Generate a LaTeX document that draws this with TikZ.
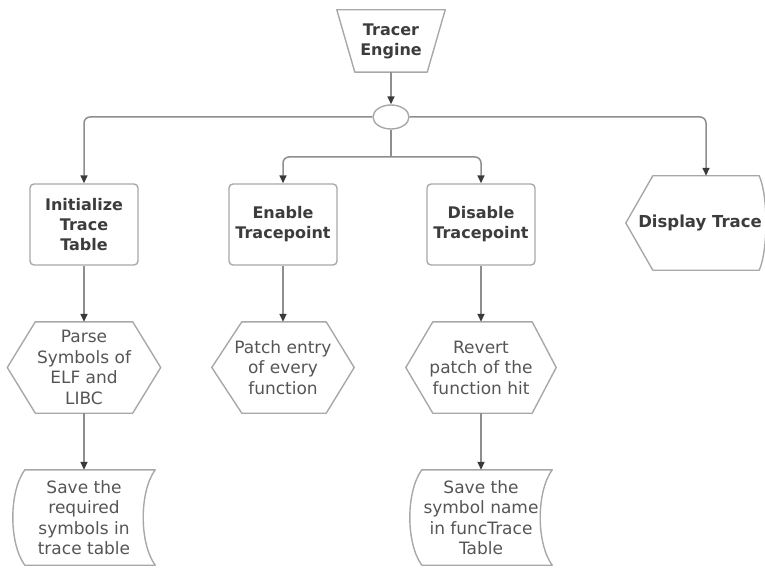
\documentclass[tikz,border=0pt]{standalone}
\usepackage{fontspec}
\setmainfont{DejaVu Sans}
\usetikzlibrary{arrows.meta,shapes.geometric}

\definecolor{edgegray}{HTML}{A8A8A8}
\definecolor{linkgray}{HTML}{8E8E8E}
\definecolor{tipgray}{HTML}{3A3A3A}
\definecolor{labelgray}{HTML}{3C3C3C}
\definecolor{textgray}{HTML}{555555}

\tikzset{
  outline/.style={draw=edgegray, line width=1.4pt, line join=round},
  boxlabel/.style={font=\fontsize{16}{20}\selectfont\bfseries, text=labelgray,
    align=center, inner sep=0pt},
  plainlabel/.style={font=\fontsize{17}{20.5}\selectfont, text=textgray,
    align=center, inner sep=0pt},
  procbox/.style={boxlabel, outline, rounded corners=4pt,
    minimum width=108pt, minimum height=81pt},
  conn/.style={draw=linkgray, line width=1.5pt},
  flow/.style={conn, -{Triangle[width=7pt,length=8pt,color=tipgray]}},
  softturn/.style={rounded corners=6pt},
}

\begin{document}
\begin{tikzpicture}[x=1pt, y=-1pt]
  \useasboundingbox (0,0) rectangle (765,569);

  % --- top: engine and its fan-out hub
  \node[boxlabel, minimum width=108pt, minimum height=62pt] (tracer) at (391,41) {Tracer\\Engine};
  \draw[outline] (tracer.north west) -- (tracer.north east)
    -- ([xshift=-18pt]tracer.south east) -- ([xshift=18pt]tracer.south west) -- cycle;

  \node[ellipse, outline, minimum width=36pt, minimum height=24pt, inner sep=0pt] (hub) at (391,117) {};

  % --- process boxes
  \node[procbox] (init) at (84,224.5) {Initialize\\Trace\\Table};
  \node[procbox] (enable) at (283,224.5) {Enable\\Tracepoint};
  \node[procbox] (disable) at (481,224.5) {Disable\\Tracepoint};

  % display shape: pointed left side, rounded right side
  \node[boxlabel, font=\fontsize{16.5}{20}\selectfont\bfseries, minimum width=148pt, minimum height=94pt] (display) at (700,223) {Display Trace};
  \draw[outline] (display.west) -- ([xshift=27pt]display.north west)
    -- ([xshift=-15pt]display.north east)
    .. controls ([xshift=-6pt,yshift=-20pt]display.north east) and ([xshift=-6pt,yshift=20pt]display.south east) ..
    ([xshift=-15pt]display.south east)
    -- ([xshift=27pt]display.south west) -- cycle;

  % --- preparation hexagons
  \node[plainlabel, minimum width=153pt, minimum height=91pt] (parse) at (84,367.5) {Parse\\Symbols of\\ELF and\\LIBC};
  \draw[outline] (parse.west) -- ([xshift=28pt]parse.north west) -- ([xshift=-28pt]parse.north east)
    -- (parse.east) -- ([xshift=-28pt]parse.south east) -- ([xshift=28pt]parse.south west) -- cycle;

  \node[plainlabel, minimum width=142pt, minimum height=91pt] (patch) at (283,367.5) {Patch entry\\of every\\function};
  \draw[outline] (patch.west) -- ([xshift=30pt]patch.north west) -- ([xshift=-28pt]patch.north east)
    -- (patch.east) -- ([xshift=-28pt]patch.south east) -- ([xshift=30pt]patch.south west) -- cycle;

  \node[plainlabel, minimum width=150pt, minimum height=91pt] (revert) at (481,367.5) {Revert\\patch of the\\function hit};
  \draw[outline] (revert.west) -- ([xshift=27pt]revert.north west) -- ([xshift=-24pt]revert.north east)
    -- (revert.east) -- ([xshift=-24pt]revert.south east) -- ([xshift=27pt]revert.south west) -- cycle;

  % --- stored-data shapes
  \node[plainlabel, minimum width=142pt, minimum height=95pt] (savesym) at (84,517.5) {Save the\\required\\symbols in\\trace table};
  \draw[outline] ([xshift=12pt]savesym.north west) -- (savesym.north east)
    .. controls ([xshift=-16pt,yshift=-22pt]savesym.north east) and ([xshift=-16pt,yshift=22pt]savesym.south east) ..
    (savesym.south east) -- ([xshift=12pt]savesym.south west)
    .. controls ([xshift=-4pt,yshift=22pt]savesym.south west) and ([xshift=-4pt,yshift=-22pt]savesym.north west) ..
    ([xshift=12pt]savesym.north west) -- cycle;

  \node[plainlabel, minimum width=142pt, minimum height=95pt] (savename) at (481,517.5) {Save the\\symbol name\\in funcTrace\\Table};
  \draw[outline] ([xshift=12pt]savename.north west) -- (savename.north east)
    .. controls ([xshift=-16pt,yshift=-22pt]savename.north east) and ([xshift=-16pt,yshift=22pt]savename.south east) ..
    (savename.south east) -- ([xshift=12pt]savename.south west)
    .. controls ([xshift=-4pt,yshift=22pt]savename.south west) and ([xshift=-4pt,yshift=-22pt]savename.north west) ..
    ([xshift=12pt]savename.north west) -- cycle;

  % --- connectors
  \draw[flow] (tracer.south) -- (hub.north);
  \draw[flow, softturn] (hub.west) -| (init.north);
  \draw[flow, softturn] (hub.east) -| ([xshift=6pt]display.north);
  \coordinate (split) at (391,157);
  \draw[conn] (hub.south) -- (split);
  \draw[flow, softturn] (split) -| (enable.north);
  \draw[flow, softturn] (split) -| (disable.north);

  \draw[flow] (init.south) -- (parse.north);
  \draw[flow] (parse.south) -- (savesym.north);
  \draw[flow] (enable.south) -- (patch.north);
  \draw[flow] (disable.south) -- (revert.north);
  \draw[flow] (revert.south) -- (savename.north);
\end{tikzpicture}
\end{document}
